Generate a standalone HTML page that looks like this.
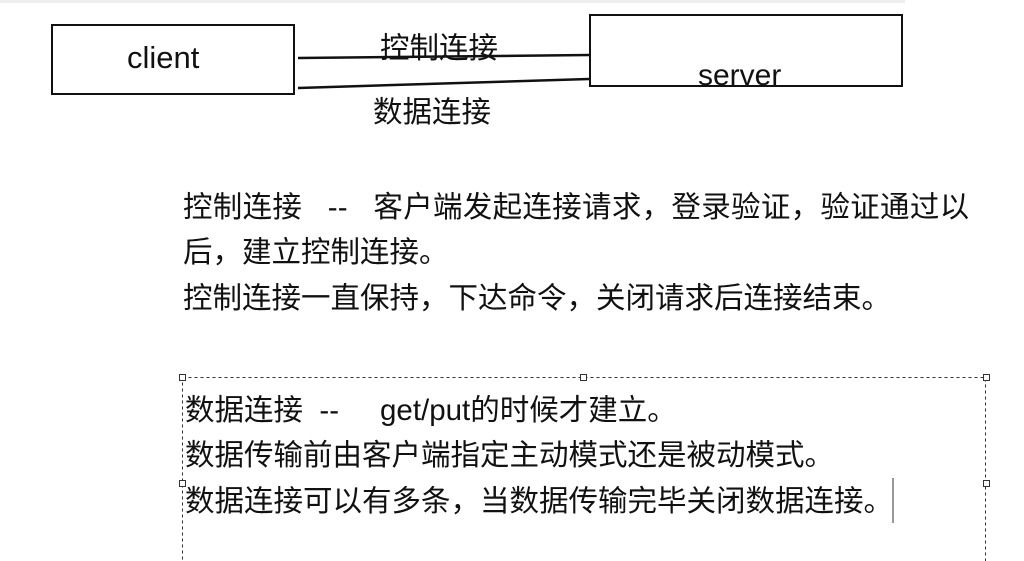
<!DOCTYPE html>
<html><head><meta charset="utf-8"><style>
body{margin:0;width:1024px;height:561px;background:#fff;position:relative;overflow:hidden;font-family:"Liberation Sans","Noto Sans CJK SC",sans-serif;color:#111}
.a{position:absolute;white-space:nowrap}
.box{position:absolute;border:2px solid #111;box-sizing:border-box}
.t{font-size:29.5px;line-height:30px}
.h{position:absolute;width:5px;height:5px;border:1px solid #333;background:#fff}
</style></head><body>
<div class="a" style="left:0;top:0;width:905px;height:3px;background:#eee"></div>
<div class="box" style="left:51px;top:24px;width:244px;height:71px"></div>
<div class="a" style="left:127px;top:41px;font-size:31px;line-height:34px">client</div>
<div class="box" style="left:589px;top:14px;width:314px;height:73px"></div>
<div class="a" style="left:698px;top:60px;font-size:30px;line-height:32px">server</div>
<svg class="a" style="left:0;top:0" width="1024" height="561">
<line x1="298" y1="58" x2="589" y2="55" stroke="#111" stroke-width="2.5"/>
<line x1="298" y1="88" x2="589" y2="79" stroke="#111" stroke-width="2.5"/>
<rect x="182.5" y="377.5" width="803" height="200" fill="none" stroke="#333" stroke-dasharray="3,3"/>
<line x1="893" y1="478" x2="893" y2="523" stroke="#333" stroke-width="1"/>
</svg>
<div class="a t" style="left:380px;top:34px">控制连接</div>
<div class="a t" style="left:373px;top:98px">数据连接</div>
<div class="a t" style="left:183px;top:193px;letter-spacing:0.3px">控制连接&nbsp;&nbsp;&nbsp;--&nbsp;&nbsp;&nbsp;客户端发起连接请求，登录验证，验证通过以</div>
<div class="a t" style="left:183px;top:238px">后，建立控制连接。</div>
<div class="a t" style="left:183px;top:284px">控制连接一直保持，下达命令，关闭请求后连接结束。</div>
<div class="a t" style="left:185px;top:396px">数据连接&nbsp;&nbsp;--&nbsp;&nbsp;&nbsp;&nbsp;&nbsp;get/put的时候才建立。</div>
<div class="a t" style="left:185px;top:441px">数据传输前由客户端指定主动模式还是被动模式。</div>
<div class="a t" style="left:185px;top:487px">数据连接可以有多条，当数据传输完毕关闭数据连接。</div>
<div class="h" style="left:179px;top:374px"></div>
<div class="h" style="left:580px;top:374px"></div>
<div class="h" style="left:983px;top:374px"></div>
<div class="h" style="left:179px;top:480px"></div>
<div class="h" style="left:983px;top:480px"></div>
</body></html>
